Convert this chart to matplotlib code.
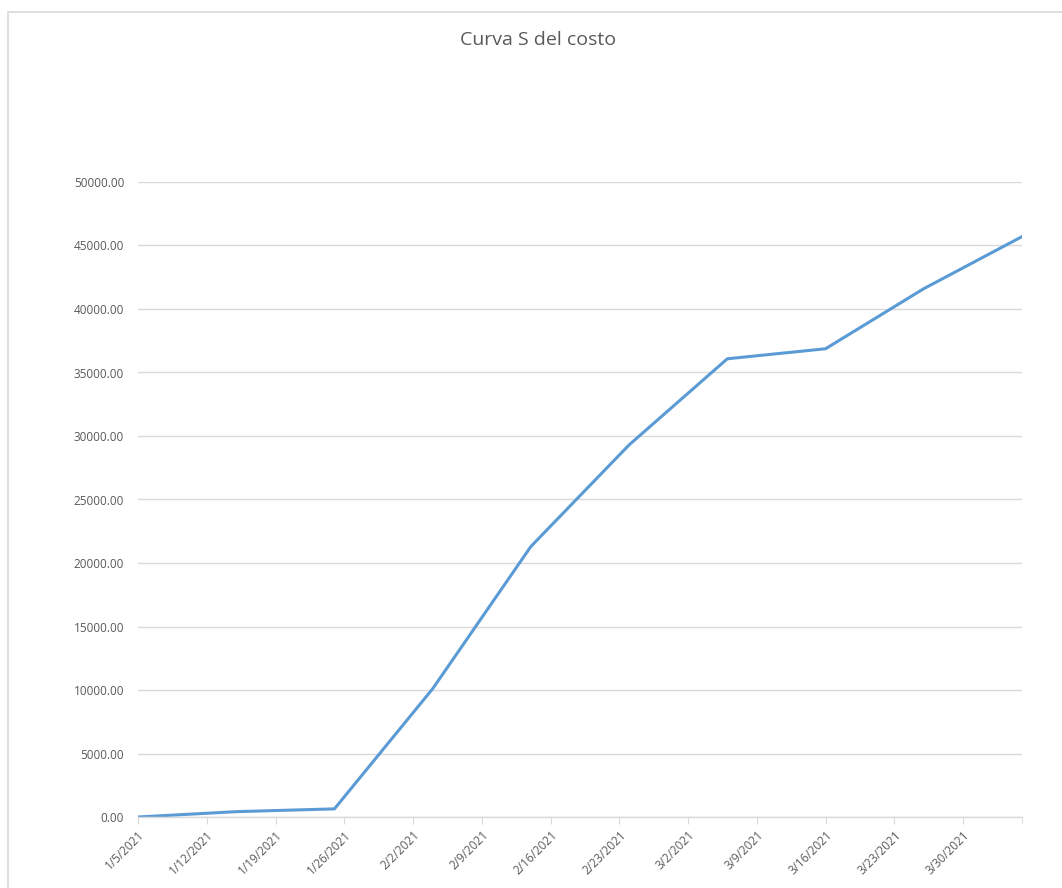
import datetime as dt

import matplotlib
matplotlib.use("Agg")
import matplotlib.dates as mdates
import matplotlib.pyplot as plt
from matplotlib.patches import Rectangle

dates = ["2021-01-05", "2021-01-15", "2021-01-25", "2021-02-04", "2021-02-14",
         "2021-02-24", "2021-03-06", "2021-03-16", "2021-03-26", "2021-04-05"]
cost = [0, 420, 640, 10100, 21300, 29300, 36080, 36870, 41600, 45700]
tick_dates = ["2021-01-05", "2021-01-12", "2021-01-19", "2021-01-26", "2021-02-02",
              "2021-02-09", "2021-02-16", "2021-02-23", "2021-03-02", "2021-03-09",
              "2021-03-16", "2021-03-23", "2021-03-30"]
y_ticks = [0, 5000, 10000, 15000, 20000, 25000, 30000, 35000, 40000, 45000, 50000]

plt.rcParams["font.family"] = ["Open Sans", "DejaVu Sans"]
text_color = "#595959"
grid_color = "#d9d9d9"

x = [dt.datetime.strptime(d, "%Y-%m-%d") for d in dates]
ticks = [dt.datetime.strptime(d, "%Y-%m-%d") for d in tick_dates]

fig = plt.figure(figsize=(10.62, 8.88), dpi=100)
fig.patches.append(Rectangle((8 / 1062, -0.05), 1.1, 0.05 + (888 - 12) / 888,
                             transform=fig.transFigure, fill=False,
                             edgecolor="#d9d9d9", linewidth=1.2))
ax = fig.add_axes([138 / 1062, 71 / 888, 884 / 1062, 635 / 888])

ax.plot(x, cost, color="#5b9bd5", linewidth=2.2, solid_capstyle="round")

ax.set_xlim(x[0], x[-1])
ax.set_ylim(0, 50000)
ax.set_yticks(y_ticks)
ax.set_yticklabels([f"{v:.2f}" for v in y_ticks])
ax.set_xticks(ticks)
ax.set_xticklabels([f"{d.month}/{d.day}/{d.year}" for d in ticks],
                   rotation=45, ha="right", rotation_mode="anchor")
ax.set_xticks([mdates.date2num(x[-1])], minor=True)

ax.grid(axis="y", color=grid_color, linewidth=1)
ax.set_axisbelow(True)
for side in ["top", "right", "left"]:
    ax.spines[side].set_visible(False)
ax.spines["bottom"].set_color(grid_color)
ax.spines["bottom"].set_linewidth(1)

ax.tick_params(axis="y", length=0, pad=10, labelsize=8.5, labelcolor=text_color)
ax.tick_params(axis="x", which="both", length=5, color=grid_color, pad=3,
               labelsize=8.5, labelcolor=text_color)

fig.text(538 / 1062, 1 - 40 / 888, "Curva S del costo", ha="center", va="center",
         fontsize=14, color=text_color)

fig.savefig("out.png", dpi=100, facecolor="white")
